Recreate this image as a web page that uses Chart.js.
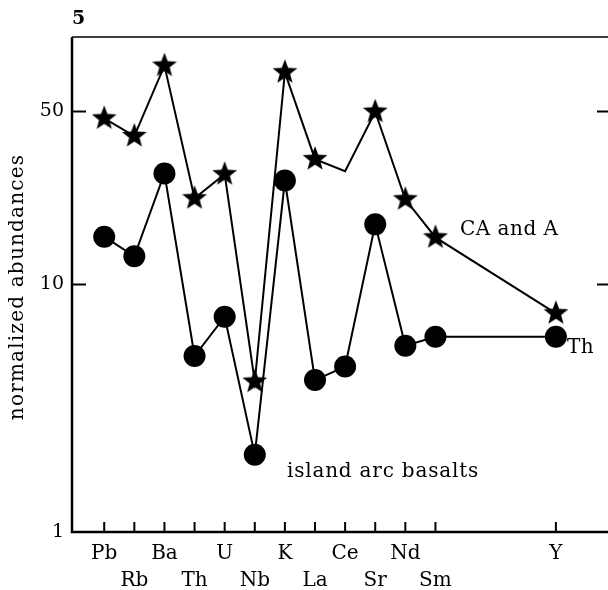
<!DOCTYPE html>
<html>
<head>
<meta charset="utf-8">
<script src="https://cdn.jsdelivr.net/npm/chart.js@4/dist/chart.umd.min.js"></script>
<style>
  html, body { margin: 0; padding: 0; background: #fff; overflow: hidden; }
  #wrap { width: 630px; height: 590px; }
</style>
</head>
<body>
<div id="wrap"><canvas id="chart" width="630" height="590"></canvas></div>
<script>
// element order along the x axis (Y sits apart at position 15)
const elements = ["Pb", "Rb", "Ba", "Th", "U", "Nb", "K", "La", "Ce", "Sr", "Nd", "Sm", "Y"];
const positions = [0, 1, 2, 3, 4, 5, 6, 7, 8, 9, 10, 11, 15];

// CA and A (stars) - Ce has no symbol, just a line vertex
const caValues = [46.9, 39.8, 76.6, 22.3, 27.9, 4.05, 72.0, 32.1, 28.7, 49.9, 22.1, 15.5, 7.65];
// Th / island arc basalts (dots)
const thValues = [15.6, 13.0, 28.1, 5.14, 7.41, 2.05, 26.3, 4.11, 4.66, 17.5, 5.66, 6.15, 6.15];

const yTicks = [1, 10, 50];

const FONT = "'DejaVu Serif', 'Liberation Serif', serif";

// filled five-point star used as the point style
function makeStar(r) {
  const c = document.createElement("canvas");
  const s = Math.ceil(r * 2 + 4);
  c.width = s; c.height = s;
  const g = c.getContext("2d");
  g.fillStyle = "#000";
  g.beginPath();
  for (let i = 0; i < 10; i++) {
    const rad = i % 2 === 0 ? r : r * 0.42;
    const a = -Math.PI / 2 + i * Math.PI / 5;
    const px = s / 2 + rad * Math.cos(a);
    const py = s / 2 + rad * Math.sin(a);
    if (i === 0) g.moveTo(px, py); else g.lineTo(px, py);
  }
  g.closePath();
  g.fill();
  return c;
}
const star = makeStar(13);

// frame, inward tick marks and text notes
const framePlugin = {
  id: "frame",
  afterDatasetsDraw(chart) {
    const { ctx, chartArea: a, scales } = chart;
    ctx.save();
    ctx.strokeStyle = "#000";
    ctx.lineCap = "butt";

    ctx.lineWidth = 2.5;
    ctx.beginPath();
    ctx.moveTo(a.left, a.top);
    ctx.lineTo(a.left, a.bottom);
    ctx.lineTo(a.right, a.bottom);
    ctx.stroke();

    ctx.lineWidth = 1.5;
    ctx.beginPath();
    ctx.moveTo(a.left, a.top);
    ctx.lineTo(a.right, a.top);
    ctx.lineTo(a.right, a.bottom);
    ctx.stroke();

    ctx.lineWidth = 2;
    [10, 50].forEach(v => {
      const py = scales.y.getPixelForValue(v);
      ctx.beginPath();
      ctx.moveTo(a.left, py); ctx.lineTo(a.left + 14, py);
      ctx.moveTo(a.right, py); ctx.lineTo(a.right - 14, py);
      ctx.stroke();
    });
    positions.forEach(p => {
      const px = scales.x.getPixelForValue(p);
      ctx.beginPath();
      ctx.moveTo(px, a.bottom); ctx.lineTo(px, a.bottom - 10);
      ctx.stroke();
    });

    ctx.fillStyle = "#000";
    ctx.textBaseline = "middle";
    ctx.textAlign = "left";
    ctx.font = "20px " + FONT;
    ctx.letterSpacing = "0.5px";
    ctx.fillText("CA and A", 460, 230);
    ctx.fillText("Th", 567, 348);
    ctx.letterSpacing = "0.8px";
    ctx.fillText("island arc basalts", 287, 472);
    ctx.letterSpacing = "0px";
    ctx.font = "bold 19px " + FONT;
    ctx.fillText("5", 72, 19);

    ctx.font = "20px " + FONT;
    ctx.letterSpacing = "1.2px";
    ctx.translate(18, 287);
    ctx.rotate(-Math.PI / 2);
    ctx.textAlign = "center";
    ctx.fillText("normalized abundances", 0, 0);
    ctx.restore();
  }
};

new Chart(document.getElementById("chart"), {
  type: "line",
  data: {
    datasets: [
      {
        label: "Th",
        data: positions.map((p, i) => ({ x: p, y: thValues[i] })),
        borderColor: "#000",
        borderWidth: 2,
        backgroundColor: "#000",
        pointBackgroundColor: "#000",
        pointBorderWidth: 0,
        pointRadius: 11,
        tension: 0
      },
      {
        label: "CA and A",
        data: positions.map((p, i) => ({ x: p, y: caValues[i] })),
        borderColor: "#000",
        borderWidth: 2,
        pointStyle: star,
        pointRadius: elements.map(e => (e === "Ce" ? 0 : 12)),
        tension: 0
      }
    ]
  },
  options: {
    responsive: false,
    animation: false,
    devicePixelRatio: 1,
    layout: { padding: { left: 0, right: 19, top: 37, bottom: 0 } },
    plugins: {
      legend: { display: false },
      tooltip: { enabled: false }
    },
    scales: {
      x: {
        type: "linear",
        min: -1.07,
        max: 16.83,
        grid: { display: false, drawTicks: false },
        border: { display: false },
        afterBuildTicks: s => { s.ticks = positions.map(v => ({ value: v })); },
        afterFit: s => { s.height = 58; },
        ticks: {
          autoSkip: false,
          maxRotation: 0,
          padding: 8,
          color: "#000",
          font: { family: FONT, size: 20, lineHeight: "27px" },
          callback: v => {
            const i = positions.indexOf(v);
            if (i < 0) return "";
            // alternate rows, Y stays on the upper row
            return (i % 2 === 0 || v === 15) ? [elements[i], ""] : ["", elements[i]];
          }
        }
      },
      y: {
        type: "logarithmic",
        min: 1,
        max: 100,
        grid: { display: false, drawTicks: false },
        border: { display: false },
        afterBuildTicks: s => { s.ticks = yTicks.map(v => ({ value: v })); },
        afterFit: s => { s.width = 72; },
        ticks: {
          padding: 8,
          color: "#000",
          font: { family: FONT, size: 19 },
          callback: v => String(v)
        }
      }
    }
  },
  plugins: [framePlugin]
});
</script>
</body>
</html>
